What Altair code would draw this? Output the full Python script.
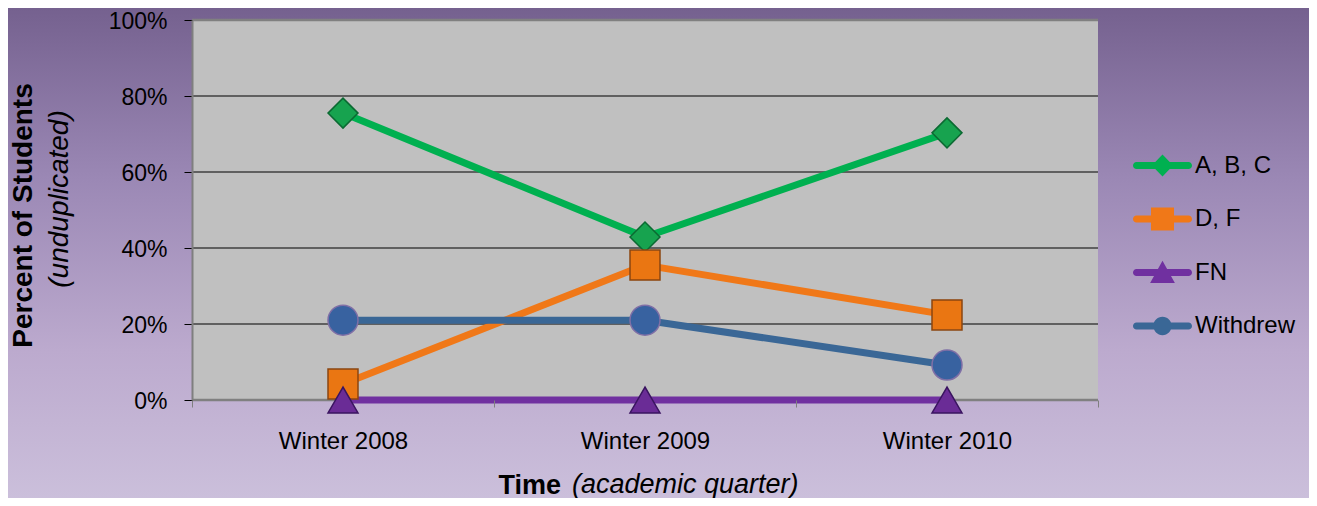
import altair as alt
import pandas as pd

# ---------------- data ----------------
quarters = ["Winter 2008", "Winter 2009", "Winter 2010"]
series = ["A, B, C", "D, F", "FN", "Withdrew"]
abc_vals = [75.5, 42.9, 70.3]
df_vals = [4.2, 35.5, 22.4]
fn_vals = [0.0, 0.0, 0.0]
withdrew_vals = [21.0, 21.0, 9.2]
y_ticks = [0, 20, 40, 60, 80, 100]
grid_vals = [20, 40, 60, 80]
border_vals = [0, 100]

# ---------------- styles ----------------
line_colors = ["#00b050", "#f07818", "#7030a0", "#3a6796"]
marker_fills = ["#17a34f", "#ea7612", "#6a2c96", "#3862a0"]
marker_strokes = ["#0b6a32", "#8a4510", "#3a1460", "#7f6fa6"]
marker_shapes = ["diamond", "square", "triangle-up", "circle"]
marker_sizes = [900, 900, 900, 740]

bar = "M-0.88,-0.12H0.88A0.12,0.12 0 0 1 0.88,0.12H-0.88A0.12,0.12 0 0 1 -0.88,-0.12Z"
legend_paths = [
    bar + "M0,-0.37L0.36,0L0,0.37L-0.36,0Z",
    bar + "M-0.39,-0.39L0.39,-0.39L0.39,0.39L-0.39,0.39Z",
    bar + "M0,-0.4L0.42,0.36L-0.42,0.36Z",
    bar + "M0.31,0A0.31,0.31 0 1 1 -0.31,0A0.31,0.31 0 1 1 0.31,0Z",
]

FONT = "Liberation Sans"
W, H = 906, 380
PAD = {"left": 184, "top": 12, "right": 211, "bottom": 98}

rows = []
for s, vals in zip(series, [abc_vals, df_vals, fn_vals, withdrew_vals]):
    for q, v in zip(quarters, vals):
        rows.append({"series": s, "quarter": q, "value": v})
data = pd.DataFrame(rows)

one = alt.Data(values=[{"k": 1}])

x_enc = alt.X(
    "quarter:N",
    scale=alt.Scale(type="band", domain=quarters, paddingInner=0, paddingOuter=0),
    axis=alt.Axis(
        tickBand="extent", domain=False, grid=False, tickColor="#7f7f7f", tickSize=7,
        labelFont=FONT, labelFontSize=24, labelColor="black", labelPadding=22, labelAngle=0,
        title="Time", titleFont=FONT, titleFontSize=27, titleFontWeight="bold",
        titleColor="black", titleAlign="left", titleBaseline="alphabetic",
        titleX=306, titleY=93, zindex=1,
    ),
    bandPosition=0.5,
)
y_scale = alt.Scale(domain=[0, 100], nice=False)
y_axis = alt.Axis(
    values=y_ticks, labelExpr="datum.value + '%'", grid=False,
    domainColor="#7f7f7f", domainWidth=2, tickColor="black", tickSize=8,
    labelFont=FONT, labelFontSize=23, labelColor="black", labelPadding=17,
    labelOffset=1,
    title="Percent of Students", titleFont=FONT, titleFontSize=28,
    titleFontWeight="bold", titleColor="black", titleAngle=270,
    titleX=-169, titleY=195, titleAlign="center", titleBaseline="middle",
    zindex=1,
)
y_enc = alt.Y("value:Q", scale=y_scale, axis=y_axis)

bg = alt.Chart(one).mark_rect(
    fill=alt.LinearGradient(
        gradient="linear",
        stops=[
            alt.GradientStop(offset=0, color="#75618f"),
            alt.GradientStop(offset=0.35, color="#9b88b5"),
            alt.GradientStop(offset=0.7, color="#bcaace"),
            alt.GradientStop(offset=1, color="#cbbfdb"),
        ],
        x1=0, x2=0, y1=0, y2=1,
    )
).encode(
    x=alt.value(-PAD["left"]), x2=alt.value(W + PAD["right"]),
    y=alt.value(-PAD["top"]), y2=alt.value(H + PAD["bottom"]),
)

plot_bg = alt.Chart(one).mark_rect(fill="#c0c0c0").encode(
    x=alt.value(0), x2=alt.value(W), y=alt.value(0), y2=alt.value(H)
)

grid = alt.Chart(pd.DataFrame({"value": grid_vals})).mark_rule(
    color="black", strokeWidth=1
).encode(y=y_enc)

border = alt.Chart(pd.DataFrame({"value": border_vals})).mark_rule(
    color="#808080", strokeWidth=2.5
).encode(y=y_enc)

lines = alt.Chart(data).mark_line(
    strokeWidth=7, strokeCap="round", strokeJoin="round"
).encode(
    x=x_enc, y=y_enc,
    color=alt.Color("series:N", scale=alt.Scale(domain=series, range=line_colors), legend=None),
)

points = alt.Chart(data).mark_point(filled=True, opacity=1, strokeWidth=1.5).encode(
    x=x_enc, y=y_enc,
    fill=alt.Fill("series:N", scale=alt.Scale(domain=series, range=marker_fills), legend=None),
    stroke=alt.Stroke("series:N", scale=alt.Scale(domain=series, range=marker_strokes), legend=None),
    shape=alt.Shape("series:N", scale=alt.Scale(domain=series, range=marker_shapes), legend=None),
    size=alt.Size("series:N", scale=alt.Scale(domain=series, range=marker_sizes), legend=None),
)

leg = alt.Legend(
    title=None, orient="none", legendX=941, legendY=116, padding=0,
    symbolSize=3481, symbolStrokeWidth=0, symbolOpacity=1,
    labelFont=FONT, labelFontSize=24, labelColor="black", labelOffset=3,
    labelLimit=300, rowPadding=11.5,
)
legend_layer = alt.Chart(data).transform_filter("false").mark_point(
    filled=True, opacity=1
).encode(
    fill=alt.Fill("series:N", scale=alt.Scale(domain=series, range=line_colors), legend=leg),
    shape=alt.Shape("series:N", scale=alt.Scale(domain=series, range=legend_paths), legend=leg),
)

sub_y = alt.Chart(one).mark_text(
    text="(unduplicated)", font=FONT, fontSize=28, fontStyle="italic", color="black",
    angle=270, align="center", baseline="middle",
).encode(x=alt.value(-132), y=alt.value(179))

sub_x = alt.Chart(one).mark_text(
    text="(academic quarter)", font=FONT, fontSize=27, fontStyle="italic", color="black",
    align="left", baseline="alphabetic",
).encode(x=alt.value(380), y=alt.value(473))

chart = alt.layer(
    bg, plot_bg, grid, border, lines, points, legend_layer, sub_y, sub_x
).resolve_scale(
    fill="independent", shape="independent"
).properties(
    width=W, height=H,
    autosize=alt.AutoSizeParams(type="none"),
    padding=PAD,
    background="#b3a3c8",
).configure_view(strokeWidth=0)

chart.save("out.html", embed_options={"renderer": "svg", "actions": False})
